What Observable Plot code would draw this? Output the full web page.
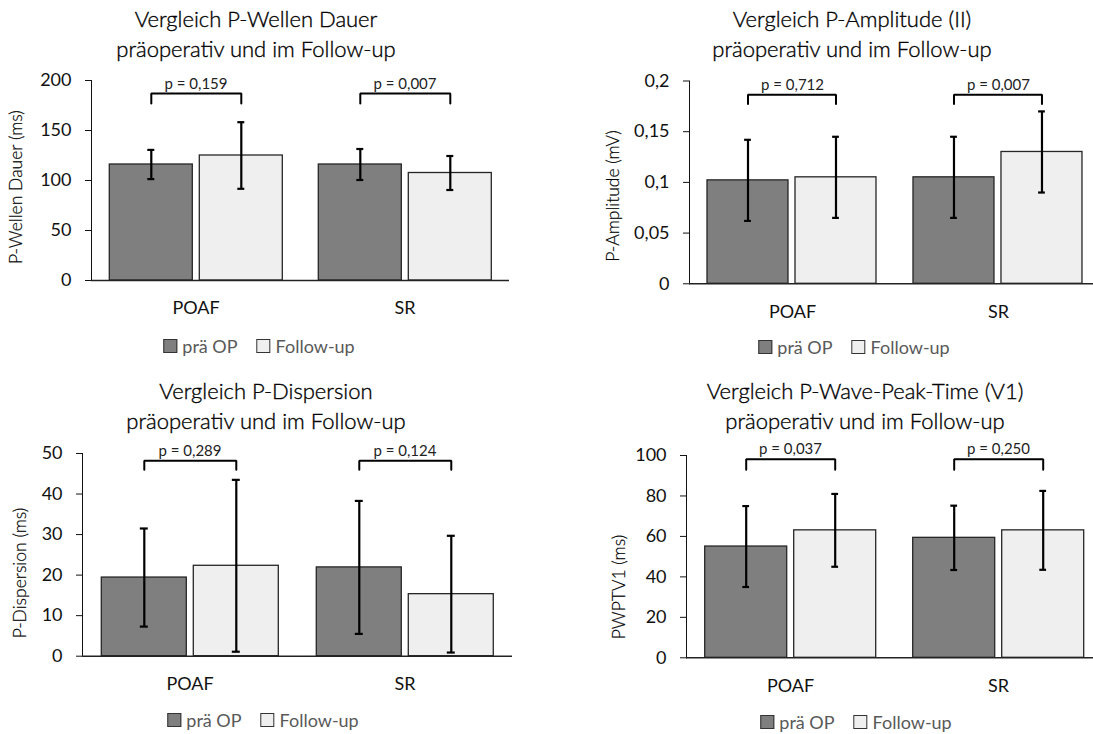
<!DOCTYPE html>
<html><head><meta charset="utf-8">
<script src="https://cdn.jsdelivr.net/npm/d3@7"></script>
<script src="https://cdn.jsdelivr.net/npm/@observablehq/plot@0.6"></script>
<style>
html,body{margin:0;padding:0;background:#fff;overflow:hidden}
#root{position:relative;width:1093px;height:734px;overflow:hidden;font-family:Lato, sans-serif}
.title{position:absolute;width:500px;text-align:center;font-size:22px;font-weight:300;line-height:30px;color:#000;-webkit-text-stroke:0.35px #000;white-space:nowrap}
.ylab{position:absolute;font-size:17.5px;font-weight:300;color:#000;-webkit-text-stroke:0.2px #000;white-space:nowrap;transform:translate(-50%,-50%) rotate(-90deg)}
.legend{position:absolute;transform:translate(-50%,-50%);display:flex;align-items:center;font-size:18px;color:#595959;white-space:nowrap}
.legend .item{display:flex;align-items:center;margin-right:19px}
.legend .item:last-child{margin-right:0}
.sw{width:12px;height:12px;border:1px solid #333;margin-right:5px;display:inline-block}
</style></head>
<body><div id="root"></div>
<script>
// ---- data ----
const categories = ["POAF", "SR"];
const series = ["prä OP", "Follow-up"];
const seriesColors = ["#7f7f7f", "#efefef"];

// P-Wellen Dauer (ms)
const pwdPre = [116, 116];
const pwdPreSd = [14.6, 15.5];
const pwdFu = [125, 107.5];
const pwdFuSd = [33.3, 17];
const pwdP = ["0,159", "0,007"];
const pwdTicks = [0, 50, 100, 150, 200];

// P-Amplitude (II) (mV)
const ampPre = [0.102, 0.105];
const ampPreSd = [0.040, 0.040];
const ampFu = [0.105, 0.130];
const ampFuSd = [0.040, 0.040];
const ampP = ["0,712", "0,007"];
const ampTicks = [0, 0.05, 0.1, 0.15, 0.2];

// P-Dispersion (ms)
const dispPre = [19.4, 21.9];
const dispPreSd = [12.1, 16.4];
const dispFu = [22.3, 15.3];
const dispFuSd = [21.2, 14.4];
const dispP = ["0,289", "0,124"];
const dispTicks = [0, 10, 20, 30, 40, 50];

// P-Wave-Peak-Time (V1) (ms)
const pwptPre = [55, 59.3];
const pwptPreSd = [20, 15.9];
const pwptFu = [63, 63];
const pwptFuSd = [18, 19.5];
const pwptP = ["0,037", "0,250"];
const pwptTicks = [0, 20, 40, 60, 80, 100];

function rows(pre, preSd, fu, fuSd) {
  return categories.flatMap((c, i) => [
    {cat: c, series: series[0], mean: pre[i], sd: preSd[i]},
    {cat: c, series: series[1], mean: fu[i], sd: fuSd[i]}
  ]);
}
const commaFmt = d => String(d).replace(".", ",");

const panels = [
  {title: ["Vergleich P-Wellen Dauer", "präoperativ und im Follow-up"], ylabel: "P-Wellen Dauer (ms)",
   data: rows(pwdPre, pwdPreSd, pwdFu, pwdFuSd), p: pwdP, ticks: pwdTicks, fmt: commaFmt,
   domain: [0, 200], bracket: 187, bracketTick: 177,
   left: 0, top: 60, x0: 90.7, x1: 510, pad: 17.3, gap: 7, yTop: 80, y0: 280,
   titlePos: [256, 4.3], ylabPos: [15, 187], legendPos: [259, 346]},
  {title: ["Vergleich P-Amplitude (II)", "präoperativ und im Follow-up"], ylabel: "P-Amplitude (mV)",
   data: rows(ampPre, ampPreSd, ampFu, ampFuSd), p: ampP, ticks: ampTicks, fmt: commaFmt,
   domain: [0, 0.2], bracket: 0.1865, bracketTick: 0.1773,
   left: 546, top: 60, x0: 688, x1: 1101.7, pad: 17.7, gap: 7, yTop: 80.5, y0: 283.3,
   titlePos: [852, 4.3], ylabPos: [612, 196], legendPos: [854, 347]},
  {title: ["Vergleich P-Dispersion", "präoperativ und im Follow-up"], ylabel: "P-Dispersion (ms)",
   data: rows(dispPre, dispPreSd, dispFu, dispFuSd), p: dispP, ticks: dispTicks, fmt: commaFmt,
   domain: [0, 50], bracket: 48.2, bracketTick: 46,
   left: 0, top: 430, x0: 81.7, x1: 511.7, pad: 18.7, gap: 7.5, yTop: 453, y0: 655.7,
   titlePos: [266, 376], ylabPos: [19, 573], legendPos: [263, 720]},
  {title: ["Vergleich P-Wave-Peak-Time (V1)", "präoperativ und im Follow-up"], ylabel: "PWPTV1 (ms)",
   data: rows(pwptPre, pwptPreSd, pwptFu, pwptFuSd), p: pwptP, ticks: pwptTicks, fmt: commaFmt,
   domain: [0, 100], bracket: 98.2, bracketTick: 93,
   left: 546, top: 430, x0: 685.3, x1: 1103, pad: 17.7, gap: 7, yTop: 455, y0: 657.3,
   titlePos: [865, 376], ylabPos: [618, 587], legendPos: [856, 722]}
];

const root = document.getElementById("root");

for (const cfg of panels) {
  const div = document.createElement("div");
  div.className = "panel";
  root.appendChild(div);

  const marginLeft = cfg.x0 - cfg.left;
  const width = cfg.x1 - cfg.left;
  const marginTop = cfg.yTop - cfg.top;
  const marginBottom = 44;
  const height = cfg.y0 - cfg.top + marginBottom;
  const F = (cfg.x1 - cfg.x0) / 2;
  const G = F - 2 * cfg.pad;
  const bw = (G - cfg.gap) / 2;
  const step = bw + cfg.gap;
  const pi = cfg.gap / step;
  const po = (F / step - 2 + pi) / 2;
  const capInset = (bw - 8) / 2;

  const brackets = categories.map((c, i) => ({cat: c, label: "p = " + cfg.p[i]}));
  const bracketPts = categories.flatMap(c => [
    {cat: c, series: series[0], y: cfg.bracketTick},
    {cat: c, series: series[0], y: cfg.bracket},
    {cat: c, series: series[1], y: cfg.bracket},
    {cat: c, series: series[1], y: cfg.bracketTick}
  ]);

  const plot = Plot.plot({
    width, height, marginLeft, marginRight: 0, marginTop, marginBottom,
    style: {fontFamily: "Lato, sans-serif", fontSize: "18px", color: "#111", background: "transparent", overflow: "visible"},
    fx: {domain: categories, paddingInner: 0, paddingOuter: 0, axis: "bottom", tickSize: 0, tickPadding: 21, label: null, fontSize: 19},
    x: {domain: series, paddingInner: pi, paddingOuter: po, axis: null},
    y: {domain: cfg.domain, ticks: cfg.ticks, tickFormat: cfg.fmt, tickSize: 6, tickPadding: 14, line: true, label: null},
    color: {domain: series, range: seriesColors},
    marks: [
      Plot.barY(cfg.data, {fx: "cat", x: "series", y: "mean", fill: "series", stroke: "#262626", strokeWidth: 1.3}),
      Plot.ruleY([0], {stroke: "#222", strokeWidth: 1.4}),
      Plot.ruleX(cfg.data, {fx: "cat", x: "series", y1: d => d.mean - d.sd, y2: d => d.mean + d.sd, stroke: "#000", strokeWidth: 2.2}),
      Plot.tickY(cfg.data, {fx: "cat", x: "series", y: d => d.mean - d.sd, insetLeft: capInset, insetRight: capInset, stroke: "#000", strokeWidth: 2.2}),
      Plot.tickY(cfg.data, {fx: "cat", x: "series", y: d => d.mean + d.sd, insetLeft: capInset, insetRight: capInset, stroke: "#000", strokeWidth: 2.2}),
      Plot.line(bracketPts, {fx: "cat", x: "series", y: "y", z: "cat", stroke: "#000", strokeWidth: 2, strokeLinejoin: "miter"}),
      Plot.text(brackets, {fx: "cat", y: cfg.bracket, text: "label", frameAnchor: "middle", lineAnchor: "bottom", dy: -5, fontSize: 15, fill: "#222"})
    ]
  });
  plot.style.left = cfg.left + "px";
  plot.style.top = cfg.top + "px";
  plot.style.position = "absolute";
  div.appendChild(plot);

  const t = document.createElement("div");
  t.className = "title";
  t.style.left = (cfg.titlePos[0] - 250) + "px";
  t.style.top = cfg.titlePos[1] + "px";
  t.innerHTML = cfg.title.join("<br>");
  div.appendChild(t);

  const yl = document.createElement("div");
  yl.className = "ylab";
  yl.style.left = cfg.ylabPos[0] + "px";
  yl.style.top = cfg.ylabPos[1] + "px";
  yl.textContent = cfg.ylabel;
  div.appendChild(yl);

  const lg = document.createElement("div");
  lg.className = "legend";
  lg.style.left = cfg.legendPos[0] + "px";
  lg.style.top = cfg.legendPos[1] + "px";
  series.forEach((s, i) => {
    const it = document.createElement("span");
    it.className = "item";
    const sw = document.createElement("span");
    sw.className = "sw";
    sw.style.background = seriesColors[i];
    it.appendChild(sw);
    it.appendChild(document.createTextNode(s));
    lg.appendChild(it);
  });
  div.appendChild(lg);
}
</script></body></html>
